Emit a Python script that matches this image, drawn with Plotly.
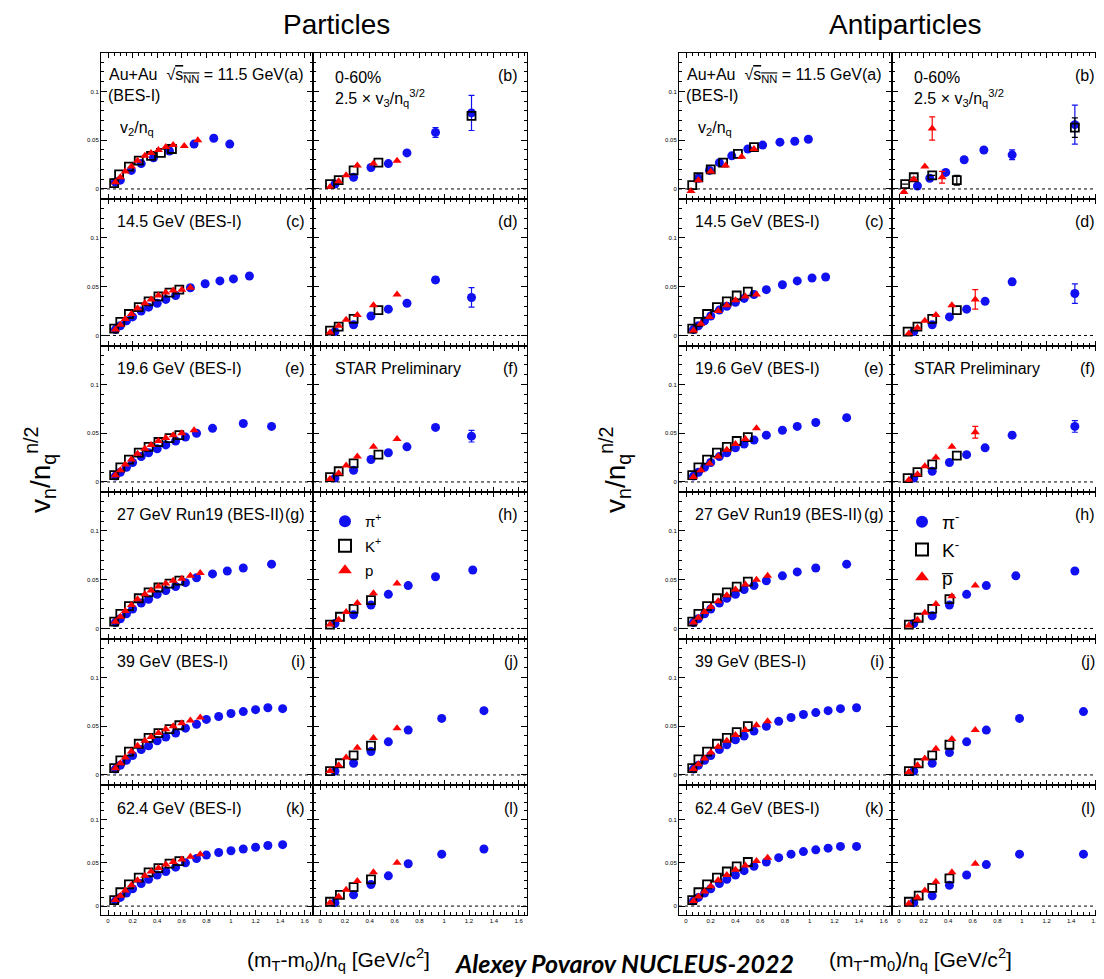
import plotly.graph_objects as go

# page is drawn with an 8px body margin, so the figure is placed at (8, 8)
OFF = 8
W, H = 1104 - OFF, 979 - OFF

# ---------------- DATA ----------------
# Particles, v2/nq (left columns)
P_A_PI_X = [0.06, 0.10, 0.19, 0.27, 0.37, 0.50, 0.70, 0.86, 0.99]
P_A_PI_Y = [0.007, 0.009, 0.019, 0.026, 0.032, 0.039, 0.046, 0.052, 0.046]
P_A_K_X = [0.05, 0.09, 0.17, 0.25, 0.35, 0.43, 0.52]
P_A_K_Y = [0.006, 0.015, 0.023, 0.029, 0.034, 0.037, 0.041]
P_A_P_X = [0.06, 0.10, 0.14, 0.19, 0.24, 0.30, 0.35, 0.41, 0.47, 0.53, 0.62, 0.73]
P_A_P_Y = [0.007, 0.012, 0.018, 0.023, 0.029, 0.034, 0.037, 0.040, 0.043, 0.045, 0.044, 0.050]

P_C_PI_X = [0.06, 0.10, 0.15, 0.20, 0.27, 0.33, 0.40, 0.47, 0.55, 0.67, 0.79, 0.91, 1.02, 1.15]
P_C_PI_Y = [0.006, 0.010, 0.015, 0.019, 0.025, 0.029, 0.033, 0.037, 0.041, 0.049, 0.053, 0.056, 0.058, 0.061]
P_C_K_X = [0.05, 0.10, 0.17, 0.25, 0.33, 0.41, 0.50, 0.58]
P_C_K_Y = [0.007, 0.014, 0.022, 0.029, 0.035, 0.040, 0.044, 0.047]
P_C_P_X = [0.06, 0.10, 0.14, 0.19, 0.24, 0.30, 0.35, 0.41, 0.47, 0.53, 0.60, 0.67]
P_C_P_Y = [0.006, 0.011, 0.017, 0.022, 0.028, 0.033, 0.037, 0.041, 0.044, 0.046, 0.047, 0.049]

P_E_PI_X = [0.06, 0.10, 0.15, 0.20, 0.27, 0.33, 0.40, 0.47, 0.55, 0.63, 0.72, 0.85, 1.10, 1.33]
P_E_PI_Y = [0.006, 0.010, 0.015, 0.020, 0.026, 0.030, 0.034, 0.038, 0.042, 0.046, 0.050, 0.055, 0.060, 0.057]
P_E_K_X = [0.05, 0.10, 0.17, 0.25, 0.33, 0.41, 0.50, 0.58]
P_E_K_Y = [0.007, 0.015, 0.023, 0.030, 0.036, 0.041, 0.045, 0.048]
P_E_P_X = [0.06, 0.10, 0.14, 0.19, 0.24, 0.30, 0.35, 0.41, 0.47, 0.53, 0.60, 0.70]
P_E_P_Y = [0.007, 0.012, 0.018, 0.023, 0.029, 0.034, 0.038, 0.042, 0.045, 0.048, 0.050, 0.053]

P_G_PI_X = [0.06, 0.10, 0.15, 0.20, 0.27, 0.33, 0.40, 0.47, 0.55, 0.63, 0.72, 0.85, 0.97, 1.10, 1.33]
P_G_PI_Y = [0.006, 0.010, 0.015, 0.020, 0.026, 0.030, 0.035, 0.039, 0.043, 0.047, 0.052, 0.056, 0.059, 0.062, 0.066]
P_G_K_X = [0.05, 0.10, 0.17, 0.25, 0.33, 0.41, 0.50, 0.58]
P_G_K_Y = [0.007, 0.015, 0.023, 0.031, 0.037, 0.042, 0.046, 0.049]
P_G_P_X = [0.06, 0.10, 0.14, 0.19, 0.24, 0.30, 0.35, 0.41, 0.47, 0.53, 0.60, 0.67, 0.75]
P_G_P_Y = [0.007, 0.012, 0.018, 0.024, 0.030, 0.035, 0.039, 0.043, 0.046, 0.049, 0.051, 0.054, 0.057]

P_I_PI_X = [0.06, 0.10, 0.15, 0.20, 0.27, 0.33, 0.40, 0.47, 0.55, 0.63, 0.72, 0.80, 0.90, 1.00, 1.10, 1.20, 1.30, 1.42]
P_I_PI_Y = [0.006, 0.010, 0.015, 0.020, 0.026, 0.030, 0.035, 0.039, 0.043, 0.048, 0.052, 0.057, 0.060, 0.063, 0.065, 0.067, 0.069, 0.068]
P_I_K_X = [0.05, 0.10, 0.17, 0.25, 0.33, 0.41, 0.50, 0.58]
P_I_K_Y = [0.007, 0.015, 0.024, 0.032, 0.038, 0.043, 0.047, 0.051]
P_I_P_X = [0.06, 0.10, 0.14, 0.19, 0.24, 0.30, 0.35, 0.41, 0.47, 0.53, 0.60, 0.67, 0.75]
P_I_P_Y = [0.007, 0.012, 0.018, 0.024, 0.030, 0.035, 0.039, 0.043, 0.047, 0.050, 0.053, 0.056, 0.059]

P_K_PI_X = [0.06, 0.10, 0.15, 0.20, 0.27, 0.33, 0.40, 0.47, 0.55, 0.63, 0.72, 0.80, 0.90, 1.00, 1.10, 1.20, 1.30, 1.42]
P_K_PI_Y = [0.006, 0.010, 0.015, 0.020, 0.026, 0.031, 0.036, 0.040, 0.045, 0.050, 0.055, 0.059, 0.062, 0.064, 0.066, 0.068, 0.070, 0.071]
P_K_K_X = [0.05, 0.10, 0.17, 0.25, 0.33, 0.41, 0.50, 0.58]
P_K_K_Y = [0.007, 0.016, 0.025, 0.033, 0.039, 0.044, 0.049, 0.052]
P_K_P_X = [0.06, 0.10, 0.14, 0.19, 0.24, 0.30, 0.35, 0.41, 0.47, 0.53, 0.60, 0.67, 0.75]
P_K_P_Y = [0.007, 0.012, 0.018, 0.024, 0.030, 0.035, 0.040, 0.044, 0.048, 0.051, 0.054, 0.057, 0.060]

# Particles, 2.5 x v3/nq^(3/2) (right columns)
P_B_PI_X = [0.12, 0.27, 0.41, 0.55, 0.70, 0.93, 1.22]
P_B_PI_Y = [0.005, 0.012, 0.022, 0.026, 0.037, 0.058, 0.078]
P_B_PI_E = [0, 0, 0, 0, 0, 0.005, 0.018]
P_B_K_X = [0.08, 0.15, 0.27, 0.47, 1.22]
P_B_K_Y = [0.005, 0.009, 0.019, 0.027, 0.075]
P_B_P_X = [0.08, 0.15, 0.21, 0.30, 0.43, 0.62]
P_B_P_Y = [0.002, 0.008, 0.014, 0.024, 0.026, 0.029]

P_D_PI_X = [0.12, 0.27, 0.41, 0.55, 0.70, 0.93, 1.22]
P_D_PI_Y = [0.004, 0.011, 0.020, 0.027, 0.033, 0.057, 0.039]
P_D_PI_E = [0, 0, 0, 0, 0, 0.003, 0.010]
P_D_K_X = [0.08, 0.15, 0.27, 0.47]
P_D_K_Y = [0.005, 0.009, 0.017, 0.026]
P_D_P_X = [0.08, 0.15, 0.21, 0.30, 0.43, 0.62]
P_D_P_Y = [0.003, 0.010, 0.016, 0.021, 0.031, 0.042]

P_F_PI_X = [0.12, 0.27, 0.41, 0.55, 0.70, 0.93, 1.22]
P_F_PI_Y = [0.004, 0.012, 0.023, 0.030, 0.036, 0.056, 0.047]
P_F_PI_E = [0, 0, 0, 0, 0, 0.002, 0.006]
P_F_K_X = [0.08, 0.15, 0.27, 0.47]
P_F_K_Y = [0.005, 0.011, 0.019, 0.028]
P_F_P_X = [0.08, 0.15, 0.21, 0.30, 0.43, 0.62]
P_F_P_Y = [0.003, 0.009, 0.017, 0.026, 0.036, 0.044]

P_H_PI_X = [0.12, 0.27, 0.41, 0.55, 0.71, 0.93, 1.23]
P_H_PI_Y = [0.005, 0.014, 0.024, 0.035, 0.044, 0.053, 0.060]
P_H_K_X = [0.08, 0.16, 0.27, 0.41]
P_H_K_Y = [0.004, 0.012, 0.020, 0.029]
P_H_P_X = [0.08, 0.15, 0.21, 0.30, 0.43, 0.62]
P_H_P_Y = [0.004, 0.009, 0.017, 0.026, 0.036, 0.046]

P_J_PI_X = [0.12, 0.27, 0.41, 0.55, 0.71, 0.98, 1.32]
P_J_PI_Y = [0.004, 0.012, 0.024, 0.034, 0.046, 0.058, 0.066]
P_J_K_X = [0.08, 0.16, 0.27, 0.41]
P_J_K_Y = [0.004, 0.012, 0.020, 0.030]
P_J_P_X = [0.08, 0.15, 0.21, 0.30, 0.43, 0.62]
P_J_P_Y = [0.004, 0.010, 0.018, 0.028, 0.038, 0.048]

P_L_PI_X = [0.12, 0.27, 0.41, 0.55, 0.71, 0.98, 1.32]
P_L_PI_Y = [0.004, 0.013, 0.025, 0.035, 0.049, 0.060, 0.066]
P_L_K_X = [0.08, 0.16, 0.27, 0.41]
P_L_K_Y = [0.005, 0.013, 0.022, 0.031]
P_L_P_X = [0.08, 0.15, 0.21, 0.30, 0.43, 0.62]
P_L_P_Y = [0.004, 0.011, 0.019, 0.029, 0.039, 0.050]

# Antiparticles, v2/nq
A_A_PI_X = [0.10, 0.19, 0.27, 0.37, 0.50, 0.62, 0.76, 0.88, 0.99]
A_A_PI_Y = [0.011, 0.019, 0.027, 0.034, 0.041, 0.045, 0.048, 0.049, 0.051]
A_A_K_X = [0.05, 0.10, 0.20, 0.30, 0.42, 0.55]
A_A_K_Y = [0.004, 0.012, 0.020, 0.027, 0.036, 0.043]
A_A_P_X = [0.04, 0.10, 0.20, 0.32, 0.45, 0.55]
A_A_P_Y = [-0.002, 0.009, 0.018, 0.024, 0.033, 0.041]

A_C_PI_X = [0.06, 0.10, 0.15, 0.20, 0.27, 0.33, 0.40, 0.47, 0.55, 0.65, 0.78, 0.90, 1.02, 1.13]
A_C_PI_Y = [0.006, 0.010, 0.015, 0.020, 0.026, 0.030, 0.034, 0.038, 0.042, 0.047, 0.052, 0.056, 0.059, 0.060]
A_C_K_X = [0.05, 0.10, 0.17, 0.25, 0.33, 0.41, 0.50]
A_C_K_Y = [0.007, 0.014, 0.022, 0.029, 0.035, 0.041, 0.045]
A_C_P_X = [0.06, 0.12, 0.19, 0.26, 0.33, 0.40, 0.48, 0.57]
A_C_P_Y = [0.005, 0.012, 0.019, 0.025, 0.031, 0.036, 0.040, 0.042]

A_E_PI_X = [0.06, 0.10, 0.15, 0.20, 0.27, 0.33, 0.40, 0.47, 0.55, 0.65, 0.78, 0.90, 1.05, 1.30]
A_E_PI_Y = [0.006, 0.010, 0.015, 0.020, 0.026, 0.030, 0.035, 0.039, 0.043, 0.048, 0.053, 0.057, 0.061, 0.066]
A_E_K_X = [0.05, 0.10, 0.17, 0.25, 0.33, 0.41, 0.50]
A_E_K_Y = [0.007, 0.015, 0.023, 0.030, 0.036, 0.042, 0.046]
A_E_P_X = [0.06, 0.12, 0.19, 0.26, 0.33, 0.40, 0.48, 0.57]
A_E_P_Y = [0.005, 0.012, 0.019, 0.026, 0.033, 0.039, 0.044, 0.055]

A_G_PI_X = [0.06, 0.10, 0.15, 0.20, 0.27, 0.33, 0.40, 0.47, 0.55, 0.65, 0.78, 0.90, 1.05, 1.30]
A_G_PI_Y = [0.006, 0.010, 0.015, 0.020, 0.026, 0.031, 0.035, 0.040, 0.044, 0.049, 0.054, 0.058, 0.062, 0.066]
A_G_K_X = [0.05, 0.10, 0.17, 0.25, 0.33, 0.41, 0.50]
A_G_K_Y = [0.007, 0.015, 0.023, 0.031, 0.037, 0.043, 0.048]
A_G_P_X = [0.06, 0.10, 0.15, 0.20, 0.26, 0.33, 0.40, 0.48, 0.57, 0.66]
A_G_P_Y = [0.006, 0.011, 0.017, 0.022, 0.028, 0.034, 0.040, 0.045, 0.050, 0.054]

A_I_PI_X = [0.06, 0.10, 0.15, 0.20, 0.27, 0.33, 0.40, 0.47, 0.55, 0.65, 0.75, 0.85, 0.95, 1.05, 1.15, 1.25, 1.38]
A_I_PI_Y = [0.006, 0.010, 0.015, 0.020, 0.026, 0.031, 0.036, 0.040, 0.045, 0.050, 0.055, 0.059, 0.062, 0.064, 0.066, 0.068, 0.069]
A_I_K_X = [0.05, 0.10, 0.17, 0.25, 0.33, 0.41, 0.50]
A_I_K_Y = [0.007, 0.016, 0.024, 0.032, 0.038, 0.044, 0.050]
A_I_P_X = [0.06, 0.10, 0.15, 0.20, 0.26, 0.33, 0.40, 0.48, 0.57, 0.66]
A_I_P_Y = [0.006, 0.011, 0.017, 0.023, 0.029, 0.035, 0.041, 0.046, 0.051, 0.055]

A_K_PI_X = [0.06, 0.10, 0.15, 0.20, 0.27, 0.33, 0.40, 0.47, 0.55, 0.65, 0.75, 0.85, 0.95, 1.05, 1.15, 1.25, 1.38]
A_K_PI_Y = [0.006, 0.010, 0.015, 0.020, 0.026, 0.031, 0.036, 0.041, 0.046, 0.051, 0.056, 0.060, 0.063, 0.065, 0.067, 0.069, 0.069]
A_K_K_X = [0.05, 0.10, 0.17, 0.25, 0.33, 0.41, 0.50]
A_K_K_Y = [0.007, 0.016, 0.025, 0.033, 0.040, 0.046, 0.051]
A_K_P_X = [0.06, 0.10, 0.15, 0.20, 0.26, 0.33, 0.40, 0.48, 0.57, 0.66]
A_K_P_Y = [0.006, 0.011, 0.017, 0.023, 0.030, 0.036, 0.042, 0.047, 0.052, 0.056]

# Antiparticles, 2.5 x v3/nq^(3/2)
A_B_PI_X = [0.15, 0.25, 0.38, 0.53, 0.69, 0.92, 1.43]
A_B_PI_Y = [0.003, 0.011, 0.017, 0.030, 0.040, 0.035, 0.066]
A_B_PI_E = [0, 0, 0, 0, 0, 0.005, 0.020]
A_B_K_X = [0.05, 0.12, 0.27, 0.47, 1.43]
A_B_K_Y = [0.005, 0.012, 0.014, 0.009, 0.063]
A_B_K_E = [0, 0, 0, 0.005, 0.010]
A_B_P_X = [0.04, 0.12, 0.21, 0.27, 0.35]
A_B_P_Y = [-0.003, 0.010, 0.023, 0.062, 0.012]
A_B_P_E = [0, 0, 0, 0.012, 0.006]

A_D_PI_X = [0.12, 0.27, 0.41, 0.55, 0.70, 0.92, 1.43]
A_D_PI_Y = [0.004, 0.011, 0.019, 0.027, 0.035, 0.055, 0.043]
A_D_PI_E = [0, 0, 0, 0, 0, 0.003, 0.010]
A_D_K_X = [0.07, 0.15, 0.27, 0.47]
A_D_K_Y = [0.004, 0.009, 0.017, 0.026]
A_D_P_X = [0.08, 0.15, 0.21, 0.30, 0.43, 0.62]
A_D_P_Y = [0.002, 0.008, 0.015, 0.021, 0.031, 0.037]
A_D_P_E = [0, 0, 0, 0, 0, 0.010]

A_F_PI_X = [0.12, 0.27, 0.41, 0.55, 0.70, 0.92, 1.43]
A_F_PI_Y = [0.004, 0.011, 0.020, 0.028, 0.035, 0.048, 0.057]
A_F_PI_E = [0, 0, 0, 0, 0, 0.003, 0.006]
A_F_K_X = [0.07, 0.15, 0.27, 0.47]
A_F_K_Y = [0.004, 0.010, 0.018, 0.027]
A_F_P_X = [0.08, 0.15, 0.21, 0.30, 0.43, 0.62]
A_F_P_Y = [0.002, 0.008, 0.016, 0.025, 0.036, 0.051]
A_F_P_E = [0, 0, 0, 0, 0, 0.006]

A_H_PI_X = [0.12, 0.27, 0.41, 0.55, 0.71, 0.95, 1.43]
A_H_PI_Y = [0.005, 0.013, 0.024, 0.035, 0.044, 0.054, 0.059]
A_H_K_X = [0.08, 0.16, 0.27, 0.41]
A_H_K_Y = [0.004, 0.011, 0.020, 0.030]
A_H_P_X = [0.08, 0.15, 0.21, 0.30, 0.43, 0.62]
A_H_P_Y = [0.003, 0.009, 0.016, 0.025, 0.033, 0.044]

A_J_PI_X = [0.12, 0.27, 0.41, 0.55, 0.71, 0.98, 1.50]
A_J_PI_Y = [0.004, 0.012, 0.023, 0.034, 0.046, 0.058, 0.065]
A_J_K_X = [0.08, 0.16, 0.27, 0.41]
A_J_K_Y = [0.004, 0.012, 0.020, 0.031]
A_J_P_X = [0.08, 0.15, 0.21, 0.30, 0.43, 0.62]
A_J_P_Y = [0.003, 0.010, 0.017, 0.027, 0.037, 0.046]

A_L_PI_X = [0.12, 0.27, 0.41, 0.55, 0.71, 0.98, 1.50]
A_L_PI_Y = [0.004, 0.012, 0.024, 0.036, 0.048, 0.060, 0.060]
A_L_K_X = [0.08, 0.16, 0.27, 0.41]
A_L_K_Y = [0.005, 0.012, 0.021, 0.032]
A_L_P_X = [0.08, 0.15, 0.21, 0.30, 0.43, 0.62]
A_L_P_Y = [0.003, 0.010, 0.018, 0.028, 0.039, 0.049]

PANEL_LABELS = ["(a)", "(b)", "(c)", "(d)", "(e)", "(f)", "(g)", "(h)", "(i)", "(j)", "(k)", "(l)"]
ENERGY_LABELS = ["", "14.5 GeV (BES-I)", "19.6 GeV (BES-I)", "27 GeV Run19 (BES-II)", "39 GeV (BES-I)", "62.4 GeV (BES-I)"]
X_TICKS = [0, 0.2, 0.4, 0.6, 0.8, 1, 1.2, 1.4, 1.6]
Y_TICKS = [0, 0.05, 0.1]
LEG_P = ["π<sup>+</sup>", "K<sup>+</sup>", "p"]
LEG_A = ["π<sup>-</sup>", "K<sup>-</sup>", "p\u0305"]

PANELS = {
    (0, 0, 0): ((P_A_PI_X, P_A_PI_Y, None), (P_A_K_X, P_A_K_Y, None), (P_A_P_X, P_A_P_Y, None)),
    (0, 0, 1): ((P_B_PI_X, P_B_PI_Y, P_B_PI_E), (P_B_K_X, P_B_K_Y, None), (P_B_P_X, P_B_P_Y, None)),
    (0, 1, 0): ((P_C_PI_X, P_C_PI_Y, None), (P_C_K_X, P_C_K_Y, None), (P_C_P_X, P_C_P_Y, None)),
    (0, 1, 1): ((P_D_PI_X, P_D_PI_Y, P_D_PI_E), (P_D_K_X, P_D_K_Y, None), (P_D_P_X, P_D_P_Y, None)),
    (0, 2, 0): ((P_E_PI_X, P_E_PI_Y, None), (P_E_K_X, P_E_K_Y, None), (P_E_P_X, P_E_P_Y, None)),
    (0, 2, 1): ((P_F_PI_X, P_F_PI_Y, P_F_PI_E), (P_F_K_X, P_F_K_Y, None), (P_F_P_X, P_F_P_Y, None)),
    (0, 3, 0): ((P_G_PI_X, P_G_PI_Y, None), (P_G_K_X, P_G_K_Y, None), (P_G_P_X, P_G_P_Y, None)),
    (0, 3, 1): ((P_H_PI_X, P_H_PI_Y, None), (P_H_K_X, P_H_K_Y, None), (P_H_P_X, P_H_P_Y, None)),
    (0, 4, 0): ((P_I_PI_X, P_I_PI_Y, None), (P_I_K_X, P_I_K_Y, None), (P_I_P_X, P_I_P_Y, None)),
    (0, 4, 1): ((P_J_PI_X, P_J_PI_Y, None), (P_J_K_X, P_J_K_Y, None), (P_J_P_X, P_J_P_Y, None)),
    (0, 5, 0): ((P_K_PI_X, P_K_PI_Y, None), (P_K_K_X, P_K_K_Y, None), (P_K_P_X, P_K_P_Y, None)),
    (0, 5, 1): ((P_L_PI_X, P_L_PI_Y, None), (P_L_K_X, P_L_K_Y, None), (P_L_P_X, P_L_P_Y, None)),
    (1, 0, 0): ((A_A_PI_X, A_A_PI_Y, None), (A_A_K_X, A_A_K_Y, None), (A_A_P_X, A_A_P_Y, None)),
    (1, 0, 1): ((A_B_PI_X, A_B_PI_Y, A_B_PI_E), (A_B_K_X, A_B_K_Y, A_B_K_E), (A_B_P_X, A_B_P_Y, A_B_P_E)),
    (1, 1, 0): ((A_C_PI_X, A_C_PI_Y, None), (A_C_K_X, A_C_K_Y, None), (A_C_P_X, A_C_P_Y, None)),
    (1, 1, 1): ((A_D_PI_X, A_D_PI_Y, A_D_PI_E), (A_D_K_X, A_D_K_Y, None), (A_D_P_X, A_D_P_Y, A_D_P_E)),
    (1, 2, 0): ((A_E_PI_X, A_E_PI_Y, None), (A_E_K_X, A_E_K_Y, None), (A_E_P_X, A_E_P_Y, None)),
    (1, 2, 1): ((A_F_PI_X, A_F_PI_Y, A_F_PI_E), (A_F_K_X, A_F_K_Y, None), (A_F_P_X, A_F_P_Y, A_F_P_E)),
    (1, 3, 0): ((A_G_PI_X, A_G_PI_Y, None), (A_G_K_X, A_G_K_Y, None), (A_G_P_X, A_G_P_Y, None)),
    (1, 3, 1): ((A_H_PI_X, A_H_PI_Y, None), (A_H_K_X, A_H_K_Y, None), (A_H_P_X, A_H_P_Y, None)),
    (1, 4, 0): ((A_I_PI_X, A_I_PI_Y, None), (A_I_K_X, A_I_K_Y, None), (A_I_P_X, A_I_P_Y, None)),
    (1, 4, 1): ((A_J_PI_X, A_J_PI_Y, None), (A_J_K_X, A_J_K_Y, None), (A_J_P_X, A_J_P_Y, None)),
    (1, 5, 0): ((A_K_PI_X, A_K_PI_Y, None), (A_K_K_X, A_K_K_Y, None), (A_K_P_X, A_K_P_Y, None)),
    (1, 5, 1): ((A_L_PI_X, A_L_PI_Y, None), (A_L_K_X, A_L_K_Y, None), (A_L_P_X, A_L_P_Y, None)),
}

# ---------------- LAYOUT GEOMETRY (screen pixels) ----------------
COL_X = [[(101, 313), (313, 527)], [(679, 892), (892, 1104)]]
ROW_TOPS = [52.5, 199, 345.5, 492, 638.5, 785]
ROW_H = 146.5
BOTTOM = 915          # bottom row frame is shortened by the axis-label margin
XR = [-0.057, 1.667]
YR = [-0.0103, 0.1400]

BLUE, RED = "#1010f0", "#ff0000"
FONT = "Liberation Sans"
TXT = 16


def px(x):
    return (x - OFF) / W


def py(y):
    return 1 - (y - OFF) / H


fig = go.Figure()
layout = dict(width=W, height=H, margin=dict(l=0, r=0, t=0, b=0),
              paper_bgcolor="white", plot_bgcolor="white", showlegend=True)
shapes, annotations = [], []


def note(x, y, text, size=TXT, anchor="left", **kw):
    annotations.append(dict(x=px(x), y=py(y), xref="paper", yref="paper", text=text,
                            showarrow=False, xanchor=anchor, yanchor="middle",
                            font=dict(size=size, family=kw.pop("family", FONT), color="black"), **kw))


idx = 0
for g in range(2):
    for r in range(6):
        for c in range(2):
            idx += 1
            sfx = "" if idx == 1 else str(idx)
            x0, x1 = COL_X[g][c]
            y0 = ROW_TOPS[r]
            y1 = BOTTOM if r == 5 else y0 + ROW_H
            layout["xaxis" + sfx] = dict(
                domain=[px(x0), px(x1)], anchor="y" + sfx, range=XR,
                showline=True, linecolor="black", linewidth=1, mirror="ticks",
                ticks="inside", ticklen=5, tickwidth=1, tickcolor="black",
                tickvals=X_TICKS, ticktext=[f"{v:g}" for v in X_TICKS],
                showticklabels=(r == 5), tickfont=dict(size=6, family=FONT, color="black"),
                minor=dict(dtick=0.05, tick0=0, ticks="inside", ticklen=3, tickcolor="black", showgrid=False),
                showgrid=False, zeroline=False, fixedrange=True)
            layout["yaxis" + sfx] = dict(
                domain=[py(y1), py(y0)], anchor="x" + sfx, range=YR,
                showline=True, linecolor="black", linewidth=1, mirror="ticks",
                ticks="inside", ticklen=6, tickwidth=1, tickcolor="black",
                tickvals=Y_TICKS, ticktext=[f"{v:g}" for v in Y_TICKS],
                showticklabels=(c == 0), tickfont=dict(size=6, family=FONT, color="black"),
                minor=dict(dtick=0.01, tick0=0, ticks="inside", ticklen=3, tickcolor="black", showgrid=False),
                showgrid=False, zeroline=False, fixedrange=True)
            shapes.append(dict(type="line", xref=f"x{sfx} domain", yref="y" + sfx,
                               x0=0, x1=1, y0=0, y1=0,
                               line=dict(color="black", width=1, dash="3px,3px")))
            (pix, piy, pie), (kx, ky, ke), (prx, pry, pre) = PANELS[(g, r, c)]
            legname = "legend" if g == 0 else "legend2"
            names = LEG_P if g == 0 else LEG_A
            show = (r == 3 and c == 1)
            common = dict(mode="markers", xaxis="x" + sfx, yaxis="y" + sfx, legend=legname,
                          showlegend=show, hoverinfo="skip")
            fig.add_trace(go.Scatter(
                x=pix, y=piy, marker=dict(symbol="circle", size=9, color=BLUE),
                error_y=dict(type="data", array=pie, visible=pie is not None, color=BLUE, thickness=1.2, width=3),
                name=names[0], legendgroup=f"g{g}pi", **common))
            fig.add_trace(go.Scatter(
                x=kx, y=ky, marker=dict(symbol="square-open", size=8, color="black", line=dict(width=1.8, color="black")),
                error_y=dict(type="data", array=ke, visible=ke is not None, color="black", thickness=1.2, width=3),
                name=names[1], legendgroup=f"g{g}k", **common))
            fig.add_trace(go.Scatter(
                x=prx, y=pry, marker=dict(symbol="triangle-up", size=8, color=RED),
                error_y=dict(type="data", array=pre, visible=pre is not None, color=RED, thickness=1.2, width=3),
                name=names[2], legendgroup=f"g{g}p", **common))

            lab = PANEL_LABELS[r * 2 + c]
            ty = y0 + 23
            if c == 0:
                if r == 0:
                    note(x0 + 6, ty, "Au+Au  √<span style='text-decoration:overline'>s<sub>NN</sub></span> = 11.5 GeV(a)")
                    note(x0 + 5, ty + 20, "(BES-I)")
                    note(x0 + 17, ty + 53, "v<sub>2</sub>/n<sub>q</sub>")
                else:
                    note(x0 + 14, ty, ENERGY_LABELS[r])
                    note(x1 - 6, ty, lab, anchor="right")
            else:
                note(x1 - 7, ty, lab, anchor="right")
                if r == 0:
                    note(x0 + 20, ty + 2, "0-60%")
                    note(x0 + 20, ty + 22, "2.5 × v<sub>3</sub>/n<sub>q</sub><sup>3/2</sup>")
                if r == 2:
                    note(x0 + 20, ty, "STAR Preliminary")

layout["legend"] = dict(x=px(325), y=py(505), xanchor="left", yanchor="top",
                        bgcolor="rgba(0,0,0,0)", font=dict(size=15, family=FONT, color="black"),
                        itemsizing="constant", tracegroupgap=2)
layout["legend2"] = dict(x=px(902), y=py(503), xanchor="left", yanchor="top",
                         bgcolor="rgba(0,0,0,0)", font=dict(size=19, family=FONT, color="black"),
                         itemsizing="constant", tracegroupgap=0)

note(336, 25, "Particles", size=28, anchor="center")
note(905, 25, "Antiparticles", size=28, anchor="center")
for xc in [40, 615]:
    note(xc, 470, "v<sub>n</sub>/n<sub>q</sub><sup>n/2</sup>", size=28, anchor="center", textangle=-90)
for xc in [338, 920]:
    note(xc, 959, "(m<sub>T</sub>-m<sub>0</sub>)/n<sub>q</sub> [GeV/c<sup>2</sup>]", size=21, anchor="center")
note(624, 963, "<b><i>Alexey Povarov NUCLEUS-2022</i></b>", size=25, anchor="center", family="Lato")

layout["shapes"] = shapes
layout["annotations"] = annotations
fig.update_layout(**layout)
fig.write_html("out.html")
